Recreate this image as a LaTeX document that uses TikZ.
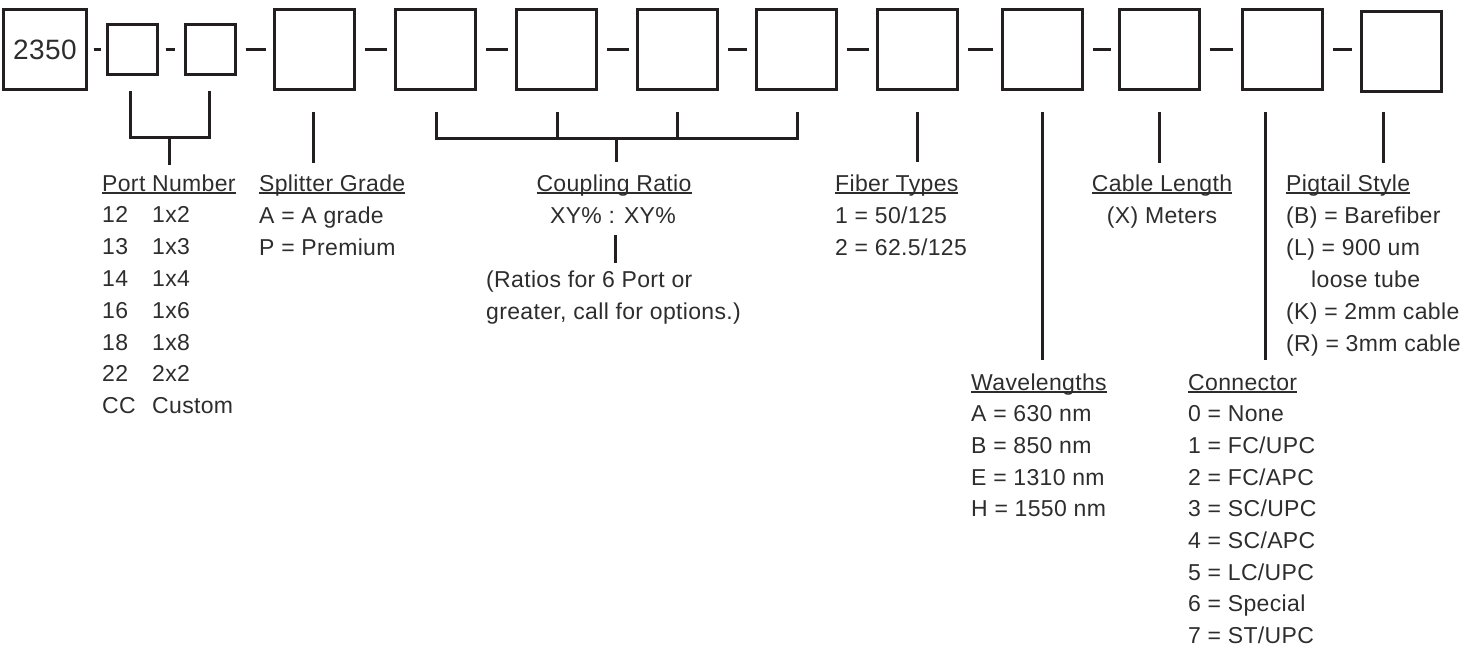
\documentclass[tikz,border=0pt]{standalone}
\usepackage{fontspec}
\setmainfont{Liberation Sans}[LetterSpace=1.5]
\usetikzlibrary{calc}
\definecolor{ink}{RGB}{35,31,32}
\definecolor{txtc}{RGB}{45,45,45}
\newcommand{\hdr}[1]{\setbox0\hbox{#1}\rlap{\rule[-2.8pt]{\wd0}{1.6pt}}\box0}
\tikzset{
  bigbox/.style={draw=ink, line width=3pt, minimum width=80pt, minimum height=80pt, inner sep=0pt},
  smallbox/.style={draw=ink, line width=3pt, minimum width=50pt, minimum height=50pt, inner sep=0pt},
  link/.style={draw=ink, line width=3pt, shorten <=9pt, shorten >=7.5pt},
  lead/.style={draw=ink, line width=3pt},
  lbl/.style={anchor=base west, inner sep=0pt, text=txtc, font=\fontsize{23}{28}\selectfont},
  clbl/.style={anchor=base, inner sep=0pt, text=txtc, font=\fontsize{23}{28}\selectfont}
}
\begin{document}
\begin{tikzpicture}[x=1pt,y=-1pt]
\useasboundingbox (0,0) rectangle (1464,654);
\clip (0,0) rectangle (1464,654);
% boxes
\node[draw=ink, line width=3pt, minimum width=83pt, minimum height=80pt, inner sep=0pt,
      text=txtc, font=\fontsize{28}{32}\selectfont] (b0) at (45,49.5) {2350};
\node[smallbox] (b1) at (132.5,49.5) {};
\node[smallbox] (b2) at (210,49.5) {};
\node[bigbox] (b3) at (314.5,49.5) {};
\node[bigbox] (b4) at (435.5,49.5) {};
\node[bigbox] (b5) at (556.5,49.5) {};
\node[bigbox] (b6) at (677.5,49.5) {};
\node[bigbox] (b7) at (796,49.5) {};
\node[bigbox] (b8) at (917.5,49.5) {};
\node[bigbox] (b9) at (1042,49.5) {};
\node[bigbox] (b10) at (1159.5,49.5) {};
\node[bigbox] (b11) at (1282,49.5) {};
\node[bigbox] (b12) at (1401,51) {};
% dashes between boxes
\draw[lead, shorten <=5.5pt, shorten >=5.5pt] (b0.east) -- (b1.west);
\draw[lead, shorten <=6.5pt, shorten >=8.5pt] (b1.east) -- (b2.west);
\draw[link] (b2.east) -- (b3.west);
\foreach \a/\b in {3/4,4/5,5/6,6/7,7/8,8/9,9/10,10/11}
  \draw[link] (b\a.east) -- (b\b.west);
\draw[link] (b11.east) -- (b11.east -| b12.west);
% lead coordinates
\coordinate (p1) at (130,91);  \coordinate (p2) at (130,137);
\coordinate (p3) at (209,137); \coordinate (p4) at (209,91);
\coordinate (p5) at (169,137); \coordinate (p6) at (169,165);
\coordinate (s1) at (313,112); \coordinate (s2) at (313,163);
\coordinate (c1) at (436,112); \coordinate (c2) at (436,138);
\coordinate (c3) at (797,138); \coordinate (c4) at (797,112);
\coordinate (c5) at (557,112); \coordinate (c6) at (557,138);
\coordinate (c7) at (677,112); \coordinate (c8) at (677,138);
\coordinate (c9) at (616,138); \coordinate (c10) at (616,162);
\coordinate (c11) at (615,235); \coordinate (c12) at (615,263);
\coordinate (f1) at (917,112); \coordinate (f2) at (917,162);
\coordinate (w1) at (1042,112); \coordinate (w2) at (1042,360);
\coordinate (l1) at (1159,112); \coordinate (l2) at (1159,163);
\coordinate (k1) at (1265,112); \coordinate (k2) at (1265,360);
\coordinate (g1) at (1383,112); \coordinate (g2) at (1383,163);
\draw[lead] (p1) -- (p2) -- (p3) -- (p4);
\draw[lead] (p5) -- (p6);
\draw[lead] (s1) -- (s2);
\draw[lead] (c1) -- (c2) -- (c3) -- (c4);
\draw[lead] (c5) -- (c6);
\draw[lead] (c7) -- (c8);
\draw[lead] (c9) -- (c10);
\draw[lead] (c11) -- (c12);
\draw[lead] (f1) -- (f2);
\draw[lead] (w1) -- (w2);
\draw[lead] (l1) -- (l2);
\draw[lead] (k1) -- (k2);
\draw[lead] (g1) -- (g2);
% Port Number
\node[lbl] (pnh) at (102,191) {\hdr{Port Number}};
\foreach \a/\b [count=\i] in {12/1x2,13/1x3,14/1x4,16/1x6,18/1x8,22/2x2,CC/Custom} {
  \node[lbl] (pna\i) at (102,191+\i*31.8) {\a};
  \node[lbl] (pnb\i) at (152,191+\i*31.8) {\b};
}
% Splitter Grade
\node[lbl] (sgh) at (259,191) {\hdr{Splitter Grade}};
\node[lbl] (sg1) at (259,223) {A = A grade};
\node[lbl] (sg2) at (259,255) {P = Premium};
% Coupling Ratio
\node[clbl] (crh) at (614,191) {\hdr{Coupling Ratio}};
\node[clbl] (cr1) at (613,223) {XY\% : XY\%};
\node[lbl] (cr2) at (486,287) {(Ratios for 6 Port or};
\node[lbl] (cr3) at (486,319) {greater, call for options.)};
% Fiber Types
\node[lbl] (fth) at (835,191) {\hdr{Fiber Types}};
\node[lbl] (ft1) at (835,223) {1 = 50/125};
\node[lbl] (ft2) at (835,255) {2 = 62.5/125};
% Cable Length
\node[clbl] (clh) at (1162,191) {\hdr{Cable Length}};
\node[clbl] (cl1) at (1162,223) {(X) Meters};
% Pigtail Style
\node[lbl] (psh) at (1286,191) {\hdr{Pigtail Style}};
\node[lbl] (ps1) at (1286,223) {(B) = Barefiber};
\node[lbl] (ps2) at (1286,255) {(L) = 900 um};
\node[lbl] (ps3) at (1311,287) {loose tube};
\node[lbl] (ps4) at (1286,319) {(K) = 2mm cable};
\node[lbl] (ps5) at (1286,351) {(R) = 3mm cable};
% Wavelengths
\node[lbl] (wlh) at (971,390) {\hdr{Wavelengths}};
\foreach \t [count=\i] in {A = 630 nm, B = 850 nm, E = 1310 nm, H = 1550 nm}
  \node[lbl] (wl\i) at (971,390+\i*31.7) {\t};
% Connector
\node[lbl] (cnh) at (1188,390) {\hdr{Connector}};
\foreach \t [count=\i] in {0 = None, 1 = FC/UPC, 2 = FC/APC, 3 = SC/UPC, 4 = SC/APC, 5 = LC/UPC, 6 = Special, 7 = ST/UPC}
  \node[lbl] (cn\i) at (1188,390+\i*31.7) {\t};
\end{tikzpicture}
\end{document}
